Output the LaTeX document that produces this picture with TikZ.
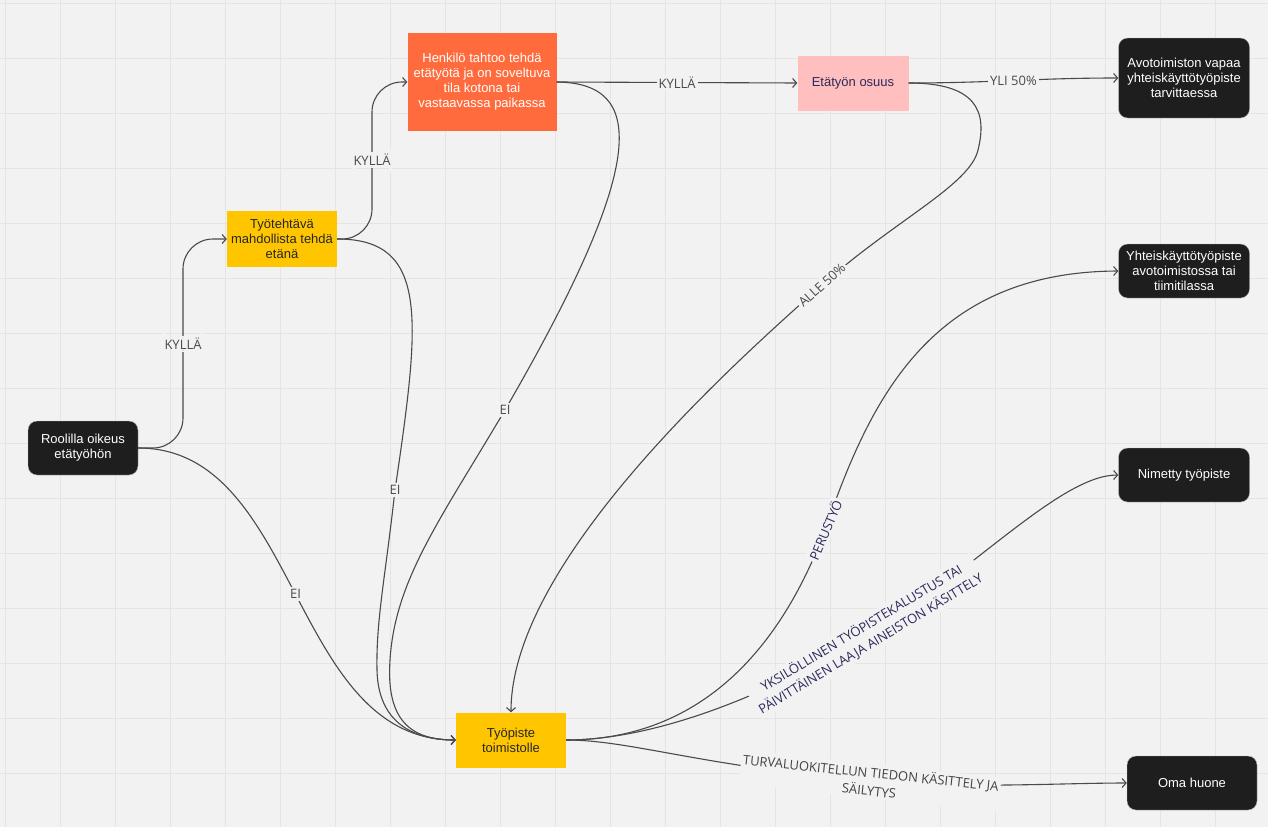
\documentclass[tikz,border=0pt]{standalone}
\usepackage{fontspec}
\setmainfont{Liberation Sans}
\newfontfamily\opensans{Open Sans}
\usetikzlibrary{arrows.meta}
\definecolor{bg}{HTML}{F2F2F2}
\definecolor{gridc}{HTML}{E4E4E4}
\definecolor{darkbox}{HTML}{1E1E1E}
\definecolor{yel}{HTML}{FFC600}
\definecolor{orng}{HTML}{FF6B3D}
\definecolor{pnk}{HTML}{FFBFBF}
\definecolor{navy}{HTML}{2B2A5C}
\definecolor{edgec}{HTML}{4A4A4A}
\begin{document}
\begin{tikzpicture}[
		x=1pt, y=-1pt,
		>={Straight Barb[length=4pt,width=9pt]},
		box/.style = {inner sep=2pt, align=center, font=\fontsize{13}{15}\selectfont},
		dark/.style = {box, fill=darkbox, draw=gray!50, rounded corners=9pt, text=white, minimum width=131pt, minimum height=54pt},
		yellowbox/.style = {box, fill=yel, text=black!85, minimum width=110pt, minimum height=55pt},
		arr/.style = {->, draw=edgec, line width=1.1pt},
		lbl/.style = {fill=bg, inner sep=2pt, text=edgec, font=\opensans\fontsize{13}{15}\selectfont},
		lblnavy/.style = {lbl, text=navy, align=center, font=\opensans\fontsize{13}{18}\selectfont}
	]
	% canvas
	\useasboundingbox (0,0) rectangle (1268,827);
	\fill[bg] (0,0) rectangle (1268,827);
	\foreach \x in {5,60,...,1270} \draw[gridc, line width=1pt] (\x,0) -- (\x,827);
	\foreach \y in {3,58,...,827} \draw[gridc, line width=1pt] (0,\y) -- (1268,\y);
	
	% nodes
	\node[dark, minimum width=110pt] (role) at (83,448) {Roolilla oikeus\\etätyöhön};
	\node[yellowbox, minimum height=56pt] (task) at (282,239) {Työtehtävä\\mahdollista tehdä\\etänä};
	\node[box, fill=orng, text=white, minimum width=149pt, minimum height=98pt] (pers) at (482,82) {Henkilö tahtoo tehdä\\etätyötä ja on soveltuva\\tila kotona tai\\vastaavassa paikassa};
	\node[box, fill=pnk, text=navy, minimum width=111pt, minimum height=55pt] (share) at (853,83) {Etätyön osuus};
	\node[dark, minimum height=80pt] (open) at (1184,78) {Avotoimiston vapaa\\yhteiskäyttötyöpiste\\tarvittaessa};
	\node[dark] (shared) at (1184,271) {Yhteiskäyttötyöpiste\\avotoimistossa tai\\tiimitilassa};
	\node[dark] (named) at (1184,475) {Nimetty työpiste};
	\node[dark, minimum width=130pt] (room) at (1192,783) {Oma huone};
	\node[yellowbox] (desk) at (511,740) {Työpiste\\toimistolle};
	
	% connectors
	\draw[arr, rounded corners=30pt] (role.east) -| (183,344) node[lbl] {KYLLÄ} |- (task.west);
	\draw[arr] (role.east) .. controls (300,448) and (290,740) .. node[lbl] {EI} (desk.west);
	\draw[arr, rounded corners=30pt] (task.east) -| (372,160) node[lbl] {KYLLÄ} |- (pers.west);
	\draw[arr] (task.east) .. controls (430,239) and (420,320) .. (395,490) node[lbl] {EI}
		.. controls (385,580) and (376,620) .. (377,670) .. controls (378,720) and (410,740) .. (desk.west);
	\draw[arr] (pers.east) -- node[lbl] {KYLLÄ} (share.west);
	\draw[arr] (pers.east) .. controls (645,83) and (650,160) .. (505,410) node[lbl] {EI}
		.. controls (440,520) and (395,580) .. (390,660) .. controls (386,720) and (410,740) .. (desk.west);
	\draw[arr] (share.east) to[out=0,in=180] node[lbl] {YLI 50\%} (open.west);
	\draw[arr] (share.east) .. controls (975,83) and (988,110) .. (978,150)
		.. controls (970,185) and (895,220) .. (822,285) node[lbl, rotate=42] {ALLE 50\%}
		.. controls (740,358) and (511,560) .. (desk.north);
	\draw[arr] (desk.east) .. controls (700,740) and (780,650) .. (825,530) node[lblnavy, rotate=67] {PERUSTYÖ}
		.. controls (870,400) and (930,272) .. (shared.west);
	\draw[arr] (desk.east) .. controls (650,740) and (760,700) .. (866,636)
		node[lblnavy, rotate=31] {YKSILÖLLINEN TYÖPISTEKALUSTUS TAI\\PÄIVITTÄINEN LAAJA AINEISTON KÄSITTELY}
		.. controls (970,575) and (1060,475) .. (named.west);
	\draw[arr] (desk.east) .. controls (630,740) and (700,766) .. (870,781)
		node[lblnavy, text=edgec!90!black, rotate=-6] {TURVALUOKITELLUN TIEDON KÄSITTELY JA\\SÄILYTYS}
		.. controls (960,789) and (1060,783) .. (room.west);
\end{tikzpicture}
\end{document}
